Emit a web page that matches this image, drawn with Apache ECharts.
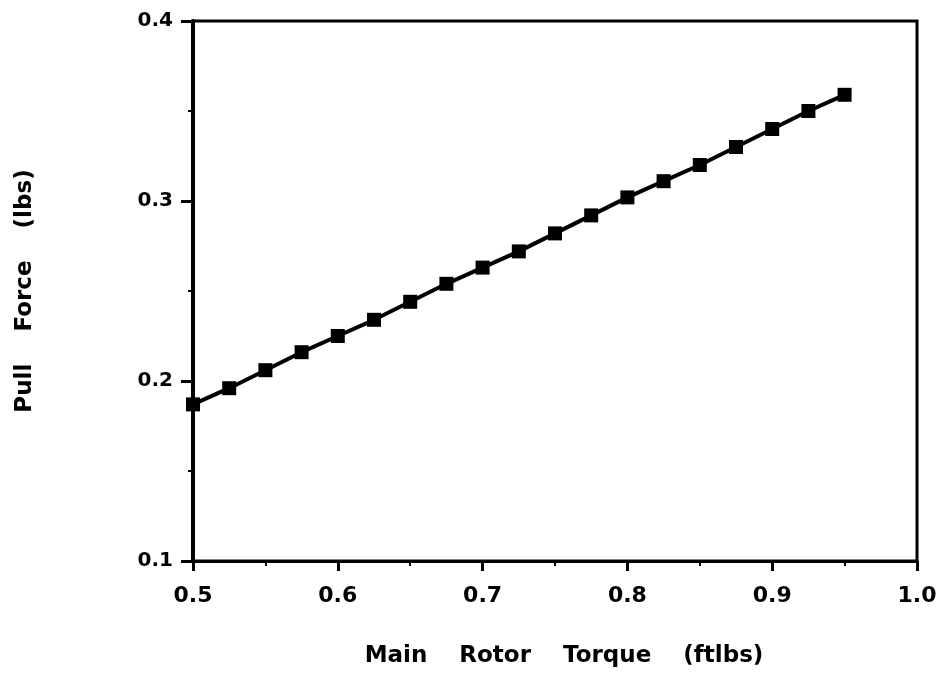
<!DOCTYPE html>
<html><head><meta charset="utf-8">
<script src="https://cdn.jsdelivr.net/npm/echarts@6/dist/echarts.min.js"></script>
<style>html,body{margin:0;padding:0;background:#fff}#c{width:940px;height:673px}</style>
</head><body><div id="c"></div>
<script>
const torque = [0.5,0.525,0.55,0.575,0.6,0.625,0.65,0.675,0.7,0.725,0.75,0.775,0.8,0.825,0.85,0.875,0.9,0.925,0.95];
const pullForce = [0.187,0.196,0.206,0.216,0.225,0.234,0.244,0.254,0.263,0.272,0.282,0.292,0.302,0.311,0.320,0.330,0.340,0.350,0.359];
const xTitle = 'Main    Rotor    Torque    (ftlbs)';
const yTitle = 'Pull    Force    (lbs)';
const F = '"DejaVu Sans", sans-serif';
const chart = echarts.init(document.getElementById('c'));
chart.setOption({
  animation:false,
  backgroundColor:'#fff',
  grid:{left:193,top:21,width:724,height:542,show:true,borderColor:'#000',borderWidth:3,backgroundColor:'transparent'},
  xAxis:{type:'value',min:0.5,max:1.0,interval:0.1,
    name:xTitle,nameLocation:'middle',nameGap:84,
    nameTextStyle:{fontFamily:F,fontWeight:'bold',fontSize:23,color:'#000',padding:[0,0,0,18]},
    axisLine:{show:true,lineStyle:{color:'#000',width:3}},
    axisTick:{show:true,length:10,lineStyle:{color:'#000',width:3}},
    minorTick:{show:true,splitNumber:2,length:5,lineStyle:{color:'#000',width:2}},
    splitLine:{show:false},
    axisLabel:{margin:24,fontFamily:F,fontWeight:'bold',fontSize:22,color:'#000',formatter:v=>v.toFixed(1)}},
  yAxis:{type:'value',min:0.1,max:0.4,interval:0.1,
    name:yTitle,nameLocation:'middle',nameGap:156,
    nameTextStyle:{fontFamily:F,fontWeight:'bold',fontSize:23,color:'#000'},
    axisLine:{show:true,lineStyle:{color:'#000',width:4}},
    axisTick:{show:true,length:12,lineStyle:{color:'#000',width:3}},
    minorTick:{show:true,splitNumber:2,length:5,lineStyle:{color:'#000',width:2}},
    splitLine:{show:false},
    axisLabel:{margin:20,fontFamily:F,fontWeight:'bold',fontSize:20,color:'#000',formatter:v=>v.toFixed(1)}},
  series:[{type:'line',data:torque.map((x,i)=>[x,pullForce[i]]),
    lineStyle:{color:'#000',width:4},
    symbol:'rect',symbolSize:14,
    itemStyle:{color:'#000'}}]
});
</script></body></html>
